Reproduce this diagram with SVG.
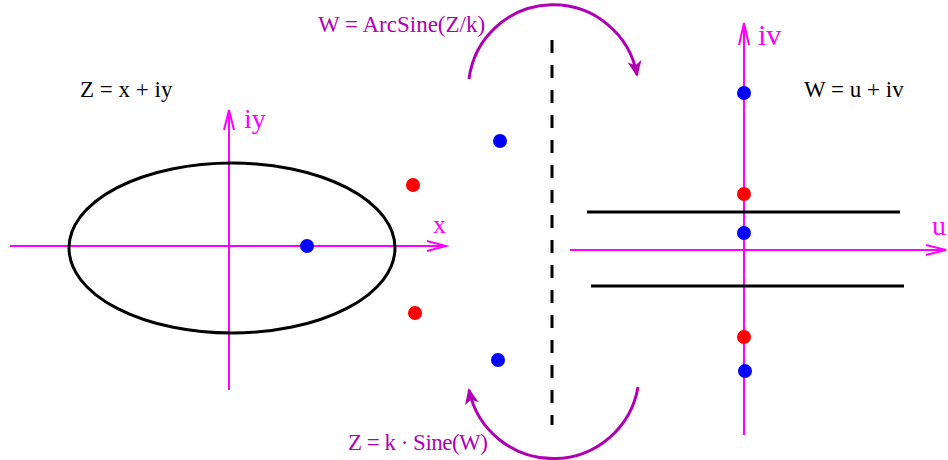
<svg xmlns="http://www.w3.org/2000/svg" width="948" height="460" viewBox="0 0 948 460">
<style>
.ax{stroke:#ff00ff;stroke-width:2;fill:none}
.arc{stroke:#b000b4;stroke-width:3;fill:none}
.blk{stroke:#000;stroke-width:3;fill:none}
.t{font-family:"Liberation Serif","Times New Roman",serif;font-size:23px;fill:#000}
.tp{font-family:"Liberation Serif","Times New Roman",serif;font-size:23px;fill:#b000b4}
.lab{font-family:"Liberation Serif","Times New Roman",serif;fill:#ff00ff}
.b{fill:#0000ff}
.r{fill:#ff0000}
</style>
<defs>
<marker id="ah" viewBox="0 0 16 14" refX="14" refY="7" markerWidth="16" markerHeight="14" markerUnits="userSpaceOnUse" orient="auto">
<path d="M0,0 L16,7 L0,14 L4,7 Z" fill="#b000b4"/>
</marker>
</defs>
<rect width="948" height="460" fill="#fff"/>
<g id="left-plane">
<g id="left-axes">
<path class="ax" d="M10,246 H446 M427,241 L446,246 L427,251"/>
<path class="ax" d="M229,390 V110 M224,130 L229,110 L234,130"/>
<text class="lab" x="244" y="128" font-size="28">iy</text>
<text class="lab" x="433" y="233" font-size="26">x</text>
</g>
<g id="ellipse"><ellipse class="blk" cx="232" cy="248" rx="163" ry="85"/></g>
<text class="t" x="80" y="97">Z = x + iy</text>
<g id="dot-l1"><circle class="b" cx="307" cy="246" r="7"/></g>
<g id="dot-l2"><circle class="r" cx="413" cy="185" r="7"/></g>
<g id="dot-l3"><circle class="r" cx="415" cy="313" r="7"/></g>
</g>
<g id="middle">
<g id="dot-m1"><circle class="b" cx="500" cy="141" r="7"/></g>
<g id="dot-m2"><circle class="b" cx="498" cy="360" r="7"/></g>
<path id="divider" d="M552,40 V425" stroke="#000" stroke-width="3" stroke-dasharray="13 12"/>
</g>
<g id="connectors">
<path class="arc" d="M469,79 A85,85 0 0 1 637,75" marker-end="url(#ah)"/>
<path class="arc" d="M638,387 A86,86 0 0 1 469,390" marker-end="url(#ah)"/>
<text class="tp" x="318" y="32">W = ArcSine(Z/k)</text>
<text class="tp" x="348" y="450" textLength="140" lengthAdjust="spacing">Z = k · Sine(W)</text>
</g>
<g id="right-plane">
<g id="right-axes">
<path class="ax" d="M744,435 V23 M739,45 L744,23 L749,45"/>
<path class="ax" d="M570,250 H946 M926,245 L946,250 L926,255"/>
<text class="lab" x="758" y="45" font-size="30">iv</text>
<text class="lab" x="932" y="235" font-size="28">u</text>
</g>
<g id="strip">
<path class="blk" d="M587,212 H900"/>
<path class="blk" d="M591,286 H904"/>
</g>
<text class="t" x="804" y="97">W = u + iv</text>
<g id="dot-r1"><circle class="b" cx="744" cy="93" r="7"/></g>
<g id="dot-r2"><circle class="r" cx="744" cy="194" r="7"/></g>
<g id="dot-r3"><circle class="b" cx="744" cy="233" r="7"/></g>
<g id="dot-r4"><circle class="r" cx="744" cy="337" r="7"/></g>
<g id="dot-r5"><circle class="b" cx="745" cy="371" r="7"/></g>
</g>
</svg>
